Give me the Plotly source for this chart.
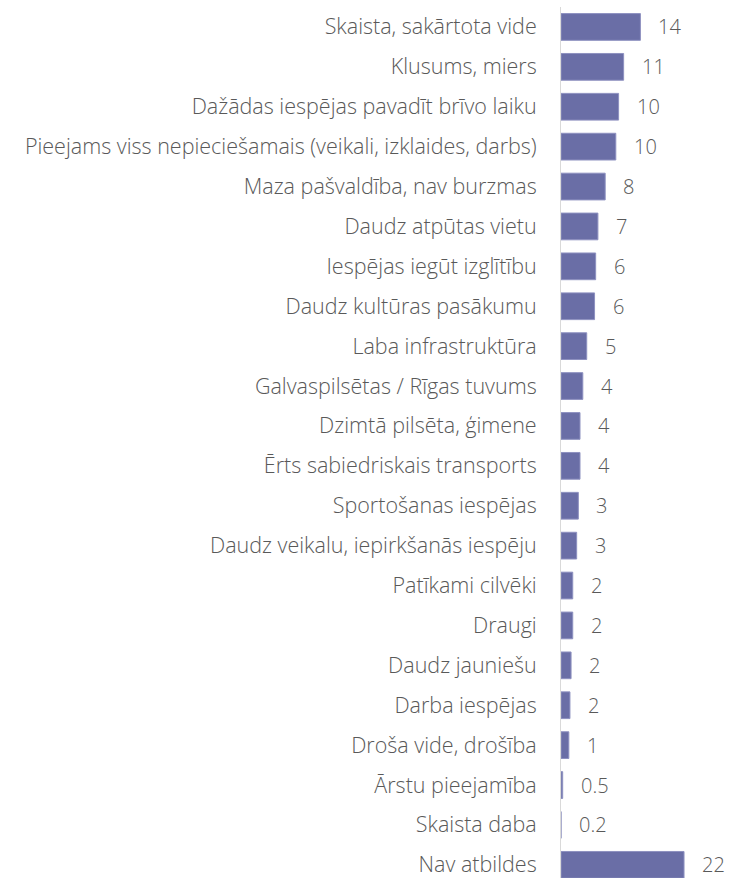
import plotly.graph_objects as go

categories = [
    "Skaista, sakārtota vide",
    "Klusums, miers",
    "Dažādas iespējas pavadīt brīvo laiku",
    "Pieejams viss nepieciešamais (veikali, izklaides, darbs)",
    "Maza pašvaldība, nav burzmas",
    "Daudz atpūtas vietu",
    "Iespējas iegūt izglītību",
    "Daudz kultūras pasākumu",
    "Laba infrastruktūra",
    "Galvaspilsētas / Rīgas tuvums",
    "Dzimtā pilsēta, ģimene",
    "Ērts sabiedriskais transports",
    "Sportošanas iespējas",
    "Daudz veikalu, iepirkšanās iespēju",
    "Patīkami cilvēki",
    "Draugi",
    "Daudz jauniešu",
    "Darba iespējas",
    "Droša vide, drošība",
    "Ārstu pieejamība",
    "Skaista daba",
    "Nav atbildes",
]
# bar lengths
values = [14.2, 11.2, 10.3, 9.8, 7.9, 6.6, 6.2, 6.0, 4.6, 3.9, 3.4, 3.4,
          3.1, 2.8, 2.1, 2.1, 1.8, 1.6, 1.4, 0.3, 0.0, 22.0]
# data labels as printed
labels = ["14", "11", "10", "10", "8", "7", "6", "6", "5", "4", "4", "4",
          "3", "3", "2", "2", "2", "2", "1", "0.5", "0.2", "22"]

FONT = "Open Sans"
GREY = "#595959"

fig = go.Figure(go.Bar(
    x=values,
    y=categories,
    orientation="h",
    marker=dict(color="#6a6ea6", line=dict(color="#8e91c0", width=1)),
    width=0.67,
    hoverinfo="skip",
))

for c, v, t in zip(categories, values, labels):
    fig.add_annotation(x=v, y=c, text=t, showarrow=False, xanchor="left",
                       xshift=16, font=dict(family=FONT, size=20, color=GREY, weight=300))

fig.update_layout(
    width=731, height=878,
    margin=dict(l=561, r=0, t=7, b=0),
    plot_bgcolor="white", paper_bgcolor="white",
    showlegend=False,
    xaxis=dict(range=[0, 30.4], visible=False, fixedrange=True),
    yaxis=dict(
        categoryorder="array", categoryarray=categories,
        range=[21.33, -0.5],
        showline=True, linecolor="#d9d9d9", linewidth=1,
        showgrid=False, zeroline=False,
        ticks="", ticklabelstandoff=19,
        tickfont=dict(family=FONT, size=21.5, color=GREY, weight=300),
        automargin=False,
    ),
)

fig.write_html("out.html", config={"displayModeBar": False},
               post_script="document.body.style.margin='0';")
